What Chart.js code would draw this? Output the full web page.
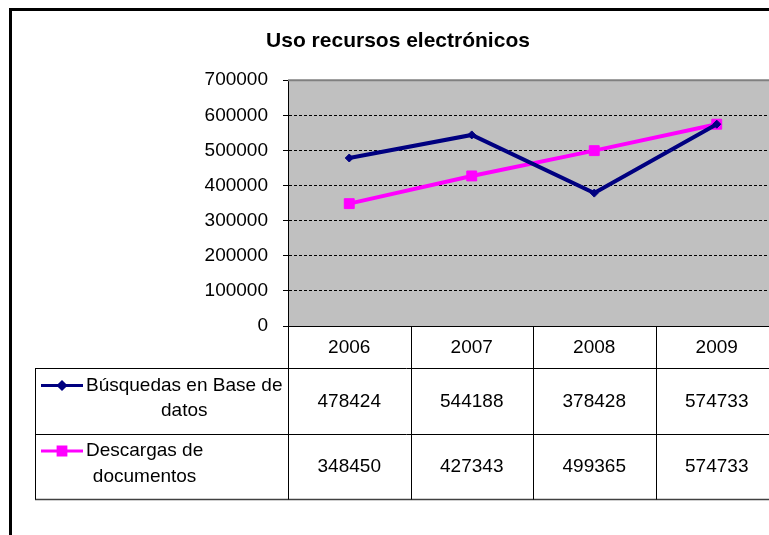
<!DOCTYPE html>
<html>
<head>
<meta charset="utf-8">
<script src="https://cdn.jsdelivr.net/npm/chart.js@4/dist/chart.umd.min.js"></script>
<style>
  html, body { margin: 0; padding: 0; overflow: hidden; background: #fff; }
  #wrap { width: 797px; height: 535px; }
</style>
</head>
<body>
<div id="wrap"><canvas id="lineChart" width="797" height="535"></canvas></div>
<script>
// Chart data
const years = ['2006', '2007', '2008', '2009'];
const busquedas = [478424, 544188, 378428, 574733];
const descargas = [348450, 427343, 499365, 574733];
const seriesNames = ['Búsquedas en Base de datos', 'Descargas de documentos'];
// How the series names are split inside the data table
const seriesNameLines = [['Búsquedas en Base de', 'datos'], ['Descargas de', 'documentos']];
const yTicks = [0, 100000, 200000, 300000, 400000, 500000, 600000, 700000];

const FONT = '"Liberation Sans", Arial, sans-serif';
const navy = '#000080';
const magenta = '#FF00FF';

// Plot background, outer frame and the data table under the chart
const tablePlugin = {
    id: 'dataTable',
    beforeDraw(chart) {
        const ctx = chart.ctx;
        const a = chart.chartArea;
        ctx.save();
        ctx.fillStyle = '#fff';
        ctx.fillRect(0, 0, chart.width, chart.height);
        ctx.fillStyle = '#C0C0C0';
        ctx.fillRect(a.left, a.top, a.right - a.left, a.bottom - a.top);
        ctx.restore();
    },
    beforeDatasetsDraw(chart) {
        const ctx = chart.ctx;
        const a = chart.chartArea;
        ctx.save();
        // top border of the plot area
        ctx.strokeStyle = '#808080';
        ctx.lineWidth = 2;
        ctx.beginPath();
        ctx.moveTo(a.left, a.top);
        ctx.lineTo(a.right, a.top);
        ctx.stroke();
        // zero line
        ctx.strokeStyle = '#000';
        ctx.lineWidth = 1;
        ctx.beginPath();
        ctx.moveTo(a.left, a.bottom + 0.5);
        ctx.lineTo(a.right, a.bottom + 0.5);
        ctx.stroke();
        ctx.restore();
    },
    afterDraw(chart) {
        const ctx = chart.ctx;
        const a = chart.chartArea;
        const xs = chart.scales.x;
        const headerBottom = xs.bottom;
        const rowH = 65.5;
        const tableLeft = 35;
        const half = (xs.getPixelForValue(1) - xs.getPixelForValue(0)) / 2;

        ctx.save();
        // outer frame
        ctx.fillStyle = '#000';
        ctx.fillRect(9, 8, 3, chart.height - 8);
        ctx.fillRect(9, 8, chart.width - 9, 3);

        ctx.strokeStyle = '#000';
        ctx.lineWidth = 1;
        // horizontal table lines
        for (let r = 0; r <= seriesNames.length; r++) {
            const y = Math.round(headerBottom + r * rowH) + 0.5;
            ctx.strokeStyle = r === seriesNames.length ? '#404040' : '#000';
            ctx.lineWidth = r === seriesNames.length ? 1.5 : 1;
            ctx.beginPath();
            ctx.moveTo(tableLeft, y);
            ctx.lineTo(a.right, y);
            ctx.stroke();
        }
        ctx.strokeStyle = '#000';
        ctx.lineWidth = 1;
        const tableBottom = Math.round(headerBottom + seriesNames.length * rowH) + 0.5;
        // vertical lines
        ctx.beginPath();
        ctx.moveTo(tableLeft + 0.5, headerBottom);
        ctx.lineTo(tableLeft + 0.5, tableBottom);
        ctx.stroke();
        for (let i = 0; i < years.length; i++) {
            const xEdge = Math.round(xs.getPixelForValue(i) - half) + 0.5;
            ctx.beginPath();
            ctx.moveTo(xEdge, a.bottom);
            ctx.lineTo(xEdge, tableBottom);
            ctx.stroke();
        }

        // rows: legend key, series name and values
        ctx.font = '19px ' + FONT;
        ctx.fillStyle = '#000';
        ctx.textBaseline = 'middle';
        chart.data.datasets.forEach((ds, r) => {
            const rowTop = headerBottom + r * rowH;
            const lines = seriesNameLines[r];
            const keyY = rowTop + 17.5;

            ctx.strokeStyle = ds.borderColor;
            ctx.lineWidth = 3;
            ctx.beginPath();
            ctx.moveTo(41, keyY);
            ctx.lineTo(83, keyY);
            ctx.stroke();
            Chart.helpers.drawPoint(ctx, {
                pointStyle: ds.pointStyle,
                radius: ds.pointStyle === 'rect' ? 5.5 : 3.5,
                rotation: 0,
                borderWidth: 1
            }, 62, keyY);
            ctx.fillStyle = ds.borderColor;
            ctx.fill();

            ctx.fillStyle = '#000';
            ctx.textAlign = 'center';
            const blockW = Math.max(...lines.map(l => ctx.measureText(l).width));
            const cx = 86 + blockW / 2;
            lines.forEach((l, k) => {
                ctx.fillText(l, cx, rowTop + 17.5 + k * 25.5);
            });

            ds.data.forEach((v, i) => {
                ctx.fillText(String(v), xs.getPixelForValue(i), rowTop + rowH / 2 + 1);
            });
        });
        ctx.restore();
    }
};

const ctx = document.getElementById('lineChart').getContext('2d');
const chart = new Chart(ctx, {
    type: 'line',
    data: {
        labels: years,
        datasets: [{
            label: seriesNames[0],
            data: busquedas,
            borderColor: navy,
            backgroundColor: navy,
            borderWidth: 4,
            pointStyle: 'rectRot',
            pointRadius: 4,
            pointBorderWidth: 1,
            tension: 0
        }, {
            label: seriesNames[1],
            data: descargas,
            borderColor: magenta,
            backgroundColor: magenta,
            borderWidth: 4,
            pointStyle: 'rect',
            pointRadius: 7,
            pointBorderWidth: 1,
            tension: 0
        }]
    },
    options: {
        responsive: false,
        animation: false,
        devicePixelRatio: 1,
        layout: {
            padding: { left: 18, right: 19, top: 0, bottom: 167 }
        },
        scales: {
            x: {
                type: 'category',
                offset: true,
                grid: { display: false, drawTicks: false },
                border: { display: false },
                ticks: {
                    color: '#000',
                    font: { family: FONT, size: 19 },
                    padding: 10,
                    maxRotation: 0
                },
                afterFit: function(scale) {
                    scale.height = 42;
                }
            },
            y: {
                min: 0,
                max: 700000,
                afterBuildTicks: function(scale) {
                    scale.ticks = yTicks.map(v => ({ value: v }));
                },
                grid: {
                    color: function(c) {
                        const v = c.tick && c.tick.value;
                        return (v === 0 || v === 700000) ? 'rgba(0,0,0,0)' : '#000';
                    },
                    lineWidth: 1,
                    tickColor: '#000',
                    tickBorderDash: [],
                    tickLength: 5
                },
                border: { display: true, color: '#000', width: 1, dash: [3, 2] },
                ticks: {
                    color: '#000',
                    font: { family: FONT, size: 19 },
                    padding: 15,
                    callback: function(value) {
                        return String(value);
                    }
                },
                afterFit: function(scale) {
                    scale.width = 270;
                }
            }
        },
        plugins: {
            legend: { display: false },
            tooltip: { enabled: false },
            title: {
                display: true,
                text: 'Uso recursos electrónicos',
                color: '#000',
                font: { family: FONT, size: 21, weight: 'bold' },
                padding: { top: 29, bottom: 26 }
            }
        }
    },
    plugins: [tablePlugin]
});
</script>
</body>
</html>
